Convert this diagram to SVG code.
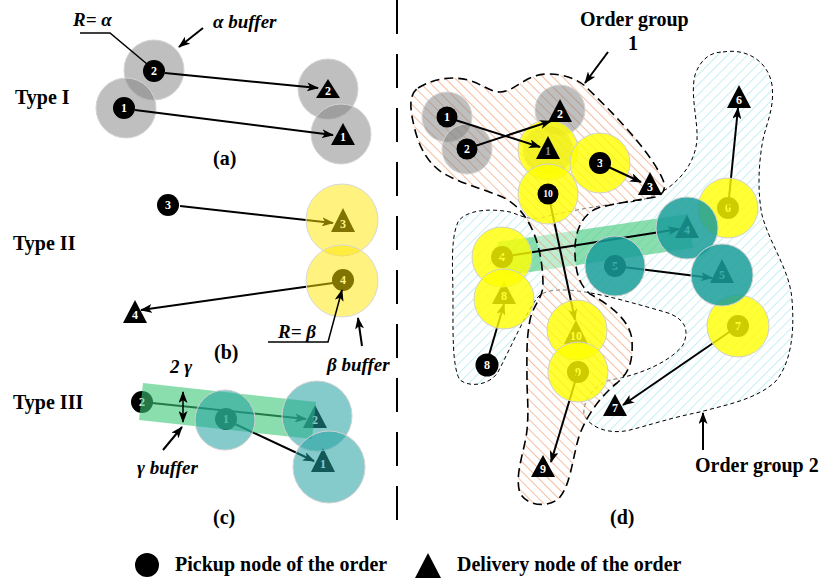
<svg xmlns="http://www.w3.org/2000/svg" width="820" height="582" viewBox="0 0 820 582">
<defs>
<style>
text{font-family:"Liberation Serif","Times New Roman",serif;font-weight:bold;fill:#000;}
.lbl{font-size:20px;}
.it{font-size:19px;font-style:italic;}
.nl{font-size:12px;fill:#fff;text-anchor:middle;}
.ns{font-size:9.5px;fill:#fff;text-anchor:middle;}
.ar{stroke:#000;stroke-width:2;fill:none;marker-end:url(#ah);}
.ln{stroke:#000;stroke-width:1.5;fill:none;}
.gray{fill:#808080;fill-opacity:0.5;stroke:#d4d4d4;stroke-width:1;}
.yb{fill:#ffe600;fill-opacity:0.5;stroke:#d8d8d8;stroke-width:1;}
.yd{fill:#ffff00;fill-opacity:0.8;stroke:#d0d0d0;stroke-width:1;}
.tc{fill:#20a0a0;fill-opacity:0.55;stroke:#d0d0d0;stroke-width:1;}
.td{fill:#1a9e9a;fill-opacity:0.85;stroke:#d0d0d0;stroke-width:1;}
.band{fill:#3cc878;fill-opacity:0.6;}
.g1{stroke:#000;stroke-width:1.6;stroke-dasharray:9 5;}
.g2{stroke:#000;stroke-width:1;stroke-dasharray:4 3;}
</style>
<marker id="ah" viewBox="0 0 12 9" refX="11" refY="4.5" markerWidth="12" markerHeight="9" markerUnits="userSpaceOnUse" orient="auto-start-reverse">
<path d="M0,0 L12,4.5 L0,9 L3,4.5 Z" fill="#000"/>
</marker>
<pattern id="hOr" width="7" height="7" patternUnits="userSpaceOnUse" patternTransform="rotate(-45)">
<line x1="0" y1="0" x2="0" y2="7" stroke="#f09a6c" stroke-width="1.3"/>
</pattern>
<pattern id="hCy" width="7" height="7" patternUnits="userSpaceOnUse" patternTransform="rotate(45)">
<line x1="0" y1="0" x2="0" y2="7" stroke="#a6e8f0" stroke-width="1.3"/>
</pattern>
<path id="g1shape" d="M418,88 C435,78 452,76 468,80 C482,84 490,92 500,92 C515,92 525,74 548,74 C565,74 578,80 585,86 C610,110 650,150 663,180 C667,190 662,195 655,197 C640,200 615,203 598,208 C580,215 574,235 575,255 C576,275 580,285 590,294 C610,305 630,320 632,340 C633,360 630,372 617,383 C605,392 585,415 578,440 C572,462 570,485 560,497 C552,507 528,508 520,493 C514,475 525,450 527,430 C529,410 527,395 527,380 C527,360 526,340 530,320 C533,305 543,298 543,285 C543,260 537,235 527,220 C520,208 510,200 500,196 C480,188 460,183 443,173 C430,165 420,150 415,130 C410,110 408,95 418,88 Z"/>
<path id="g2shape" d="M723,52 C745,48 768,60 772,85 C775,110 765,125 762,145 C758,170 758,195 762,215 C770,245 790,270 792,300 C795,335 790,365 775,382 C755,400 725,405 700,412 C670,418 650,425 630,430 C610,435 590,428 584,415 C582,400 595,385 610,380 C640,375 670,362 683,345 C690,330 685,318 665,312 C640,305 610,296 585,292 C565,289 545,288 537,298 C525,315 512,345 498,372 C490,385 470,388 460,380 C452,368 453,330 453,300 C453,270 450,240 458,222 C465,210 490,208 510,212 C520,215 527,220 540,218 C565,212 600,205 630,202 C645,200 658,195 668,188 C685,175 695,160 697,140 C698,120 690,95 695,75 C700,60 710,52 723,52 Z"/>
</defs>
<rect width="820" height="582" fill="#fff"/>

<!-- divider -->
<line x1="397" y1="0" x2="397" y2="530" stroke="#000" stroke-width="2" stroke-dasharray="34 20"/>

<!-- Panel (a) -->
<g id="panel-a">
<text class="lbl" x="15" y="104">Type I</text>
<circle class="gray" cx="154" cy="70" r="30"/>
<circle class="gray" cx="126" cy="108" r="30"/>
<circle class="gray" cx="328" cy="89" r="30"/>
<circle class="gray" cx="341" cy="134" r="30"/>
<g id="a-p2"><circle cx="154" cy="71" r="11"/><text class="nl" x="154" y="75">2</text></g>
<g id="a-p1"><circle cx="124" cy="108" r="11"/><text class="nl" x="124" y="112">1</text></g>
<g id="a-d2"><polygon points="328,79 316,98 340,98"/><text class="nl" x="328" y="95">2</text></g>
<g id="a-d1"><polygon points="343,123 331,145 355,145"/><text class="nl" x="343" y="141">1</text></g>
<g id="a-conn">
<line class="ar" x1="165" y1="73" x2="318" y2="88"/>
<line class="ar" x1="135" y1="110" x2="333" y2="135"/>
<polyline class="ln" points="80,33 110,33 147,64"/>
<line class="ar" x1="203" y1="28" x2="179" y2="47"/>
</g>
<text class="it" x="73" y="26">R= α</text>
<text class="it" x="213" y="28">α buffer</text>
<text class="lbl" x="213" y="165">(a)</text>
</g>

<!-- Panel (b) -->
<g id="panel-b">
<text class="lbl" x="13" y="250">Type II</text>
<g id="b-d3"><polygon points="343,208 331,232 355,232"/><text class="nl" x="343" y="228">3</text></g>
<g id="b-p4"><circle cx="343" cy="280" r="11"/><text class="nl" x="343" y="284">4</text></g>
<line class="ar" x1="180" y1="206" x2="333" y2="223"/>
<line class="ar" x1="333" y1="283" x2="141" y2="310"/>
<circle class="yb" cx="342" cy="220" r="36"/>
<circle class="yb" cx="342" cy="281" r="36"/>
<g id="b-p3"><circle cx="168" cy="205" r="11"/><text class="nl" x="168" y="209">3</text></g>
<g id="b-d4"><polygon points="135,300 123,323 147,323"/><text class="nl" x="135" y="319">4</text></g>
<polyline class="ln" points="268,342 328,342 342,290" marker-end="url(#ah)"/>
<line class="ar" x1="362" y1="346" x2="358" y2="318"/>
<text class="it" x="278" y="338">R= β</text>
<text class="it" x="327" y="371">β buffer</text>
<text class="lbl" x="214" y="359">(b)</text>
</g>

<!-- Panel (c) -->
<g id="panel-c">
<text class="lbl" x="13" y="409">Type III</text>
<g id="c-p2"><circle cx="142" cy="402" r="11"/><text class="nl" x="142" y="406">2</text></g>
<g id="c-p1"><circle cx="226" cy="419" r="11"/><text class="nl" x="226" y="423">1</text></g>
<g id="c-d2"><polygon points="315,405 303,428 327,428"/><text class="nl" x="315" y="424">2</text></g>
<g id="c-d1"><polygon points="323,448 311,472 335,472"/><text class="nl" x="323" y="468">1</text></g>
<line class="ar" x1="152" y1="403" x2="306" y2="419"/>
<line class="ar" x1="235" y1="424" x2="314" y2="461"/>
<polygon class="band" points="143,383 316,402 312,439 139,420"/>
<circle class="tc" cx="225" cy="420" r="30"/>
<circle class="tc" cx="317" cy="416" r="35"/>
<circle class="tc" cx="329" cy="467" r="36"/>
<line class="ln" x1="183" y1="392" x2="183" y2="422" stroke-width="2" marker-start="url(#ah)" marker-end="url(#ah)"/>
<line class="ar" x1="163" y1="450" x2="182" y2="427"/>
<text class="it" x="170" y="373">2 γ</text>
<text class="it" x="137" y="474">γ buffer</text>
<text class="lbl" x="213" y="524">(c)</text>
</g>

<!-- Panel (d) -->
<g id="group2"><use href="#g2shape" fill="url(#hCy)"/><use href="#g2shape" class="g2" fill="none"/></g>
<polygon class="band" points="498,242 688,214 693,248 503,276"/>
<g id="group1"><use href="#g1shape" fill="#fff" fill-opacity="0.45"/><use href="#g1shape" fill="url(#hOr)"/><use href="#g1shape" class="g1" fill="none"/></g>

<g id="d-under">
<g id="d-p4"><circle cx="502" cy="257" r="11"/><text class="nl" x="502" y="261">4</text></g>
<g id="d-p9"><circle cx="578" cy="372" r="11"/><text class="nl" x="578" y="376">9</text></g>
<g id="d-p7"><circle cx="738" cy="326" r="11"/><text class="nl" x="738" y="330">7</text></g>
<g id="d-p6"><circle cx="728" cy="208" r="11"/><text class="nl" x="728" y="212">6</text></g>
<g id="d-p5"><circle cx="615" cy="266" r="11"/><text class="nl" x="615" y="270">5</text></g>
<g id="d-d8"><polygon points="504,281 492,304 516,304"/><text class="nl" x="504" y="300">8</text></g>
<g id="d-d10"><polygon points="576,320 564,344 588,344"/><text class="nl" x="576" y="340">10</text></g>
<g id="d-d4"><polygon points="687,215 675,238 699,238"/><text class="nl" x="687" y="234">4</text></g>
<g id="d-d5"><polygon points="722,259 710,283 734,283"/><text class="nl" x="722" y="279">5</text></g>
</g>
<g id="d-conn-under">
<line class="ar" x1="502" y1="257" x2="679" y2="229"/>
<line class="ar" x1="615" y1="266" x2="712" y2="278"/>
<line class="ar" x1="728" y1="208" x2="738" y2="108"/>
<line class="ar" x1="738" y1="326" x2="623" y2="405"/>
<line class="ar" x1="489" y1="355" x2="504" y2="304"/>
<line class="ar" x1="578" y1="372" x2="551" y2="462"/>
<line class="ar" x1="550" y1="202" x2="575" y2="320"/>
</g>
<g id="d-buffers">
<circle class="gray" cx="447" cy="117" r="25"/>
<circle class="gray" cx="467" cy="149" r="25"/>
<circle class="gray" cx="560" cy="110" r="25"/>
<circle class="gray" cx="548" cy="150" r="25"/>
<circle class="yd" cx="548" cy="150" r="30"/>
<circle class="yd" cx="600" cy="163" r="30"/>
<circle class="yd" cx="548" cy="194" r="30"/>
<circle class="yd" cx="502" cy="257" r="30"/>
<circle class="yd" cx="504" cy="299" r="30"/>
<circle class="yd" cx="577" cy="330" r="30"/>
<circle class="yd" cx="578" cy="372" r="30"/>
<circle class="yd" cx="738" cy="326" r="31"/>
<circle class="yd" cx="728" cy="208" r="30"/>
<circle class="td" cx="615" cy="266" r="30"/>
<circle class="td" cx="687" cy="228" r="31"/>
<circle class="td" cx="722" cy="275" r="31"/>
</g>
<g id="d-top">
<g id="d-p1"><circle cx="447" cy="117" r="10.5"/><text class="nl" x="447" y="121">1</text></g>
<g id="d-p2"><circle cx="467" cy="149" r="10.5"/><text class="nl" x="467" y="153">2</text></g>
<g id="d-p3"><circle cx="600" cy="163" r="11"/><text class="nl" x="600" y="167">3</text></g>
<g id="d-p10"><circle cx="548" cy="194" r="10.5"/><text class="ns" x="548" y="197">10</text></g>
<g id="d-p8"><circle cx="487" cy="365" r="11.5"/><text class="nl" x="487" y="369">8</text></g>
<g id="d-d1"><polygon points="548,136 536,159 560,159"/><text class="nl" x="548" y="155" style="fill:#888">1</text></g>
<g id="d-d2"><polygon points="560,99 548,122 572,122"/><text class="nl" x="560" y="118">2</text></g>
<g id="d-d3"><polygon points="650,172 638,195 662,195"/><text class="nl" x="650" y="191">3</text></g>
<g id="d-d6"><polygon points="739,85 727,108 751,108"/><text class="nl" x="739" y="104">6</text></g>
<g id="d-d7"><polygon points="615,394 603,416 627,416"/><text class="nl" x="615" y="412">7</text></g>
<g id="d-d9"><polygon points="543,455 531,477 555,477"/><text class="nl" x="543" y="473">9</text></g>
</g>
<g id="d-conn-top">
<line class="ar" x1="449" y1="118" x2="540" y2="147"/>
<line class="ar" x1="469" y1="148" x2="551" y2="121"/>
<line class="ar" x1="602" y1="164" x2="641" y2="182"/>
<line class="ar" x1="608" y1="52" x2="585" y2="83"/>
<line class="ar" x1="703" y1="450" x2="703" y2="413"/>
</g>
<text class="lbl" x="580" y="26">Order group</text>
<text class="lbl" x="633" y="50" text-anchor="middle">1</text>
<text class="lbl" x="695" y="472">Order group 2</text>
<text class="lbl" x="610" y="524">(d)</text>

<!-- legend -->
<g id="legend">
<circle cx="147" cy="565" r="12"/>
<text class="lbl" x="175" y="571">Pickup node of the order</text>
<polygon points="428,553 415,578 441,578"/>
<text class="lbl" x="457" y="571">Delivery node of the order</text>
</g>
</svg>
